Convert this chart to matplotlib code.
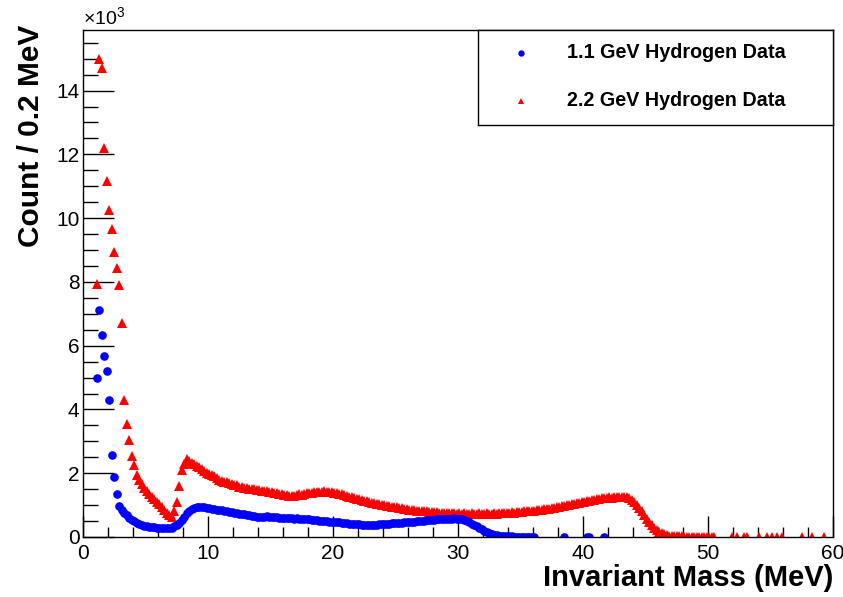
import matplotlib
matplotlib.use('Agg')
import matplotlib.pyplot as plt
import numpy as np

# bin width 0.2 MeV, first drawn bin centred at 1.1 MeV, counts in units of 10^3
bin_width = 0.2
first_bin = 1.1

# 2.2 GeV hydrogen data (red), bins 1.1 .. 50.5 MeV
red_counts = [
    7.95, 15.0, 14.7, 12.2, 11.15, 10.25, 9.65, 8.95, 8.45, 7.9,
    6.7, 4.3, 3.55, 3.05, 2.55, 2.25, 1.95, 1.8, 1.65, 1.55,
    1.45, 1.36, 1.27, 1.18, 1.1, 1.02, 0.94, 0.86, 0.76, 0.68,
    0.62, 0.8, 1.1, 1.6, 2.1, 2.3, 2.45, 2.38, 2.33, 2.28,
    2.24, 2.18, 2.12, 2.08, 2.02, 1.98, 1.93, 1.9, 1.85, 1.8,
    1.77, 1.74, 1.72, 1.69, 1.66, 1.63, 1.62, 1.58, 1.57, 1.55,
    1.53, 1.52, 1.5, 1.5, 1.48, 1.47, 1.45, 1.44, 1.43, 1.41,
    1.40, 1.38, 1.37, 1.36, 1.34, 1.33, 1.31, 1.30, 1.29, 1.30,
    1.32, 1.34, 1.33, 1.36, 1.37, 1.38, 1.37, 1.40, 1.41, 1.40,
    1.42, 1.43, 1.41, 1.42, 1.40, 1.39, 1.38, 1.36, 1.34, 1.32,
    1.30, 1.27, 1.25, 1.22, 1.20, 1.18, 1.16, 1.14, 1.12, 1.10,
    1.08, 1.06, 1.04, 1.03, 1.01, 1.00, 0.98, 0.97, 0.95, 0.94,
    0.93, 0.91, 0.90, 0.89, 0.88, 0.86, 0.86, 0.84, 0.83, 0.82,
    0.81, 0.80, 0.80, 0.79, 0.78, 0.78, 0.77, 0.76, 0.76, 0.75,
    0.75, 0.74, 0.74, 0.75, 0.73, 0.74, 0.73, 0.74, 0.72, 0.73,
    0.74, 0.72, 0.73, 0.74, 0.72, 0.73, 0.74, 0.73, 0.72, 0.74,
    0.73, 0.74, 0.75, 0.74, 0.76, 0.75, 0.77, 0.76, 0.78, 0.77,
    0.79, 0.80, 0.81, 0.80, 0.82, 0.83, 0.84, 0.85, 0.86, 0.87,
    0.88, 0.89, 0.90, 0.92, 0.93, 0.95, 0.96, 0.98, 0.99, 1.01,
    1.03, 1.04, 1.06, 1.08, 1.09, 1.11, 1.12, 1.14, 1.15, 1.17,
    1.18, 1.19, 1.21, 1.22, 1.22, 1.24, 1.23, 1.25, 1.26, 1.25,
    1.27, 1.26, 1.25, 1.22, 1.17, 1.10, 1.01, 0.91, 0.80, 0.68,
    0.57, 0.47, 0.38, 0.29, 0.21, 0.15, 0.11, 0.08, 0.05, 0.04,
    0.03, 0.03, 0.02, 0.02, 0.02, 0.015, 0.015, 0.01, 0.01, 0.01,
    0.01, 0.01, 0.01, 0.008, 0.008, 0.006, 0.006, 0.005,
]
# a few isolated non-empty bins in the tail
red_tail_x = [51.9, 52.3, 52.9, 53.1, 54.1, 54.7, 55.1, 55.5, 55.9, 57.5, 58.3, 59.3]
red_tail_counts = [0.004, 0.004, 0.004, 0.004, 0.004, 0.004, 0.004, 0.004, 0.004, 0.004, 0.004, 0.004]

# 1.1 GeV hydrogen data (blue), bins 1.1 .. 36.1 MeV
blue_counts = [
    4.98, 7.12, 6.34, 5.69, 5.22, 4.3, 2.57, 1.89, 1.34, 0.97,
    0.86, 0.76, 0.68, 0.6, 0.54, 0.49, 0.45, 0.41, 0.38, 0.36,
    0.34, 0.32, 0.31, 0.3, 0.29, 0.29, 0.28, 0.28, 0.28, 0.28,
    0.29, 0.33, 0.38, 0.45, 0.54, 0.64, 0.74, 0.82, 0.88, 0.92,
    0.94, 0.95, 0.94, 0.93, 0.92, 0.90, 0.89, 0.88, 0.86, 0.86,
    0.84, 0.82, 0.80, 0.78, 0.77, 0.75, 0.74, 0.73, 0.72, 0.72,
    0.70, 0.68, 0.66, 0.65, 0.63, 0.62, 0.63, 0.64, 0.65, 0.64,
    0.63, 0.62, 0.62, 0.61, 0.61, 0.60, 0.60, 0.59, 0.59, 0.58,
    0.59, 0.58, 0.58, 0.57, 0.56, 0.55, 0.54, 0.53, 0.52, 0.51,
    0.50, 0.50, 0.49, 0.48, 0.48, 0.47, 0.46, 0.46, 0.45, 0.44,
    0.43, 0.42, 0.42, 0.41, 0.40, 0.40, 0.39, 0.38, 0.38, 0.38,
    0.39, 0.38, 0.39, 0.40, 0.40, 0.41, 0.41, 0.42, 0.43, 0.43,
    0.44, 0.44, 0.45, 0.46, 0.46, 0.47, 0.48, 0.48, 0.49, 0.50,
    0.51, 0.51, 0.52, 0.53, 0.53, 0.54, 0.55, 0.55, 0.56, 0.57,
    0.57, 0.58, 0.58, 0.59, 0.58, 0.57, 0.55, 0.52, 0.50, 0.46,
    0.42, 0.38, 0.33, 0.28, 0.24, 0.19, 0.15, 0.12, 0.09, 0.07,
    0.055, 0.045, 0.035, 0.03, 0.025, 0.02, 0.02, 0.015, 0.015, 0.012,
    0.01, 0.01, 0.008, 0.008, 0.006, 0.006,
]
blue_tail_x = [38.5, 40.3, 40.5, 41.7]
blue_tail_counts = [0.004, 0.004, 0.004, 0.004]

label_blue = '1.1 GeV Hydrogen Data'
label_red = '2.2 GeV Hydrogen Data'

plain = ['Liberation Sans', 'DejaVu Sans']

red_x = first_bin + bin_width * np.arange(len(red_counts))
blue_x = first_bin + bin_width * np.arange(len(blue_counts))

W, H = 843, 597
fig = plt.figure(figsize=(W / 100, H / 100), dpi=100)
ax = fig.add_axes([83 / W, 60 / H, 750 / W, 507 / H])

ax.plot(red_x, red_counts, '^', color='red', ms=6.6, mew=0, ls='none')
ax.plot(red_tail_x, red_tail_counts, '^', color='red', ms=6.6, mew=0, ls='none')
ax.plot(blue_x, blue_counts, 'o', color='blue', ms=6.2, mew=0, ls='none')
ax.plot(blue_tail_x, blue_tail_counts, 'o', color='blue', ms=6.2, mew=0, ls='none')

ax.set_xlim(0, 60)
ax.set_ylim(0, 15.9)
ax.set_xticks(np.arange(0, 61, 10))
ax.set_xticks(np.arange(0, 61, 2), minor=True)
ax.set_yticks(np.arange(0, 15, 2))
ax.set_yticks(np.arange(0, 15.9, 0.5), minor=True)
ax.tick_params(which='both', direction='in', top=False, right=False, color='black', width=1)
ax.tick_params(axis='x', which='major', length=15, pad=5)
ax.tick_params(axis='x', which='minor', length=7.5)
ax.tick_params(axis='y', which='major', length=22, pad=2.5)
ax.tick_params(axis='y', which='minor', length=11)
for lab in ax.get_xticklabels() + ax.get_yticklabels():
    lab.set_family(plain)
    lab.set_fontsize(15)
for sp in ax.spines.values():
    sp.set_color('black')
    sp.set_linewidth(1.0)

ax.set_xlabel('Invariant Mass (MeV)', family=plain, fontsize=21, fontweight='bold', loc='right')
ax.set_ylabel('Count / 0.2 MeV', family=plain, fontsize=21.5, fontweight='bold', loc='top')
ax.xaxis.set_label_coords(1.0, -0.053)
ax.yaxis.set_label_coords(-0.05, 1.01)

ax.text(0.0, 1.004, r'$\mathregular{\times10^{3}}$', transform=ax.transAxes,
        family=plain, fontsize=14, ha='left', va='bottom')

# legend box drawn as its own small axes
lax = fig.add_axes([478 / W, (H - 125) / H, 355 / W, 95 / H])
lax.set_xlim(0, 355)
lax.set_ylim(95, 0)
lax.set_xticks([])
lax.set_yticks([])
for sp in lax.spines.values():
    sp.set_color('black')
    sp.set_linewidth(1.0)
lax.plot([43], [23], 'o', color='blue', ms=4.6, mew=0)
lax.plot([43], [71], '^', color='red', ms=4.6, mew=0)
lax.text(89, 23, label_blue, family=plain, fontsize=14.2, fontweight='bold', va='center', ha='left')
lax.text(89, 71, label_red, family=plain, fontsize=14.2, fontweight='bold', va='center', ha='left')

fig.savefig('out.png', dpi=100)
